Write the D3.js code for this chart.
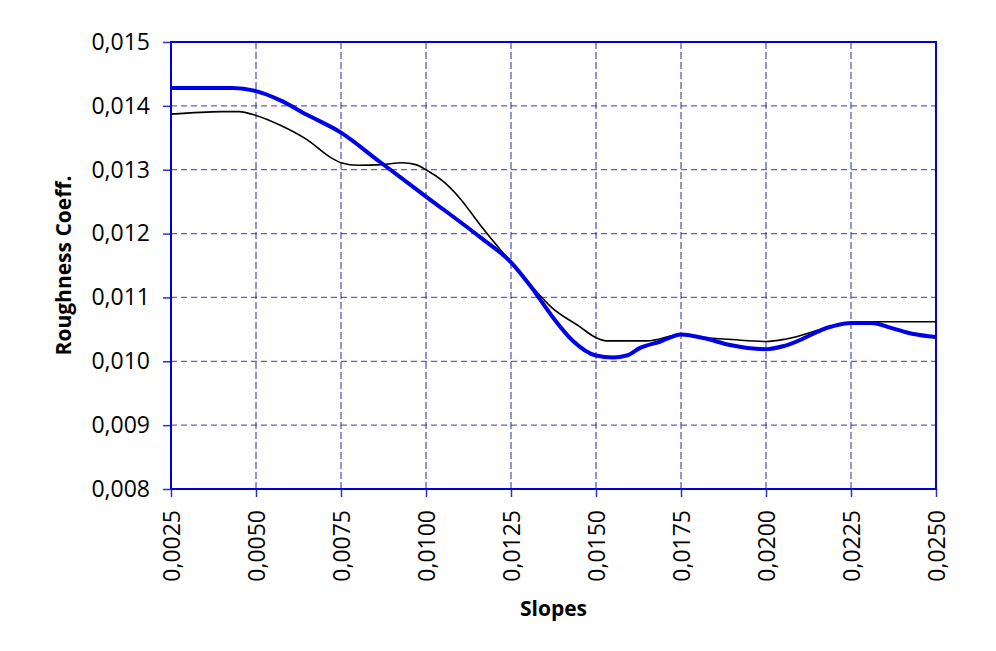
<!DOCTYPE html>
<html>
<head>
<meta charset="utf-8">
<script src="https://cdn.jsdelivr.net/npm/d3@7"></script>
<style>
  body { margin: 0; background: #fff; }
  svg { display: block; font-family: "Open Sans", sans-serif; }
</style>
</head>
<body>
<svg id="chart" width="996" height="651"></svg>
<script>
/* ======================= DATA ========================== */
const xTicks = [0.0025, 0.005, 0.0075, 0.01, 0.0125, 0.015, 0.0175, 0.02, 0.0225, 0.025];
const yTicks = [0.008, 0.009, 0.010, 0.011, 0.012, 0.013, 0.014, 0.015];

const blueSlopes = [0.0025, 0.0043, 0.0050, 0.0057, 0.0065, 0.0075, 0.0086, 0.0100, 0.0116, 0.0125,
                    0.0131, 0.0137, 0.0143, 0.0150, 0.0155, 0.0159, 0.0163, 0.0169, 0.0175, 0.0182,
                    0.0189, 0.0200, 0.0206, 0.0219, 0.0225, 0.0231, 0.0237, 0.0243, 0.0250];
const blueCoeff  = [0.01428, 0.01428, 0.01423, 0.01409, 0.01386, 0.01358, 0.01314, 0.01258, 0.01194, 0.01155,
                    0.01116, 0.01071, 0.01033, 0.01009, 0.01006, 0.01009, 0.01021, 0.01031, 0.01042, 0.01036,
                    0.01026, 0.01019, 0.01025, 0.01054, 0.01060, 0.01060, 0.01052, 0.01043, 0.01038];

const blackSlopes = [0.0025, 0.0040, 0.0045, 0.0050, 0.0057, 0.0065, 0.0072, 0.0075, 0.0080, 0.0087,
                     0.0093, 0.0097, 0.0100, 0.0105, 0.0110, 0.0116, 0.0125, 0.0131, 0.0137, 0.0145,
                     0.0150, 0.0153, 0.0165, 0.0175, 0.0180, 0.0190, 0.0200, 0.0206, 0.0219, 0.0225,
                     0.0232, 0.0250];
const blackCoeff  = [0.01387, 0.01391, 0.01391, 0.01385, 0.01370, 0.01347, 0.01319, 0.01311, 0.01307, 0.01308,
                     0.01311, 0.01308, 0.01300, 0.01282, 0.01255, 0.01213, 0.01155, 0.01118, 0.01084, 0.01055,
                     0.01037, 0.01032, 0.01032, 0.01042, 0.01038, 0.01034, 0.01031, 0.01035, 0.01054, 0.01060,
                     0.01062, 0.01062];

/* ======================= LAYOUT ======================== */
const margin = { left: 171, top: 42, right: 60, bottom: 162 };
const width = 996, height = 651;
const plotW = width - margin.left - margin.right;
const plotH = height - margin.top - margin.bottom;

const svg = d3.select("#chart");
const g = svg.append("g").attr("transform", `translate(${margin.left},${margin.top})`);

const xScale = d3.scaleLinear().domain([0.0025, 0.025]).range([0, plotW]);
const yScale = d3.scaleLinear().domain([0.008, 0.015]).range([plotH, 0]);

const fmtX = v => d3.format(".4f")(v).replace(".", ",");
const fmtY = v => d3.format(".3f")(v).replace(".", ",");

/* ======================= GRID ========================== */
g.append("g")
 .selectAll("line")
 .data(yTicks.slice(1, -1))
 .join("line")
 .attr("x1", 0).attr("x2", plotW)
 .attr("y1", d => yScale(d)).attr("y2", d => yScale(d))
 .attr("stroke", "#6060c8")
 .attr("stroke-width", 1.3)
 .attr("stroke-dasharray", "6,4");

g.append("g")
 .selectAll("line")
 .data(xTicks.slice(1, -1))
 .join("line")
 .attr("x1", d => xScale(d)).attr("x2", d => xScale(d))
 .attr("y1", 0).attr("y2", plotH)
 .attr("stroke", "#2a2aa0")
 .attr("stroke-width", 1)
 .attr("stroke-dasharray", "7,3");

/* ======================= AXES ========================== */
const axisY = g.append("g")
               .call(d3.axisLeft(yScale).tickValues(yTicks).tickFormat(fmtY).tickSize(8).tickPadding(13));
const axisX = g.append("g")
               .attr("transform", `translate(0,${plotH})`)
               .call(d3.axisBottom(xScale).tickValues(xTicks).tickFormat(fmtX).tickSize(8).tickPadding(12));

[axisX, axisY].forEach(a => {
    a.select(".domain").remove();
    a.selectAll(".tick line").attr("stroke", "#3030c0").attr("stroke-width", 1.5);
    a.selectAll("text").attr("fill", "#000").style("font-size", "23px").style("font-family", "'Open Sans', sans-serif");
});

axisX.selectAll("text")
     .attr("transform", "rotate(-90)")
     .attr("text-anchor", "end")
     .attr("x", -21)
     .attr("y", 0)
     .attr("dy", "0.36em");

// plot frame
g.append("rect")
 .attr("x", 0).attr("y", 0)
 .attr("width", plotW).attr("height", plotH)
 .attr("fill", "none")
 .attr("stroke", "#0000d8")
 .attr("stroke-width", 2);

/* ======================= LINES ========================= */
const line = d3.line()
               .x(d => xScale(d[0]))
               .y(d => yScale(d[1]))
               .curve(d3.curveMonotoneX);

g.append("path")
 .datum(blackSlopes.map((s, i) => [s, blackCoeff[i]]))
 .attr("d", line)
 .attr("fill", "none")
 .attr("stroke", "#000")
 .attr("stroke-width", 1.6);

g.append("path")
 .datum(blueSlopes.map((s, i) => [s, blueCoeff[i]]))
 .attr("d", line)
 .attr("fill", "none")
 .attr("stroke", "#0000e6")
 .attr("stroke-width", 4);

/* ======================= TITLES ======================== */
svg.append("text")
   .attr("x", margin.left + plotW / 2)
   .attr("y", 616)
   .attr("text-anchor", "middle")
   .style("font-size", "21px")
   .style("font-weight", "bold")
   .text("Slopes");

svg.append("text")
   .attr("transform", `translate(71,${margin.top + plotH / 2}) rotate(-90)`)
   .attr("text-anchor", "middle")
   .style("font-size", "21px")
   .style("font-weight", "bold")
   .text("Roughness Coeff.");
</script>
</body>
</html>
